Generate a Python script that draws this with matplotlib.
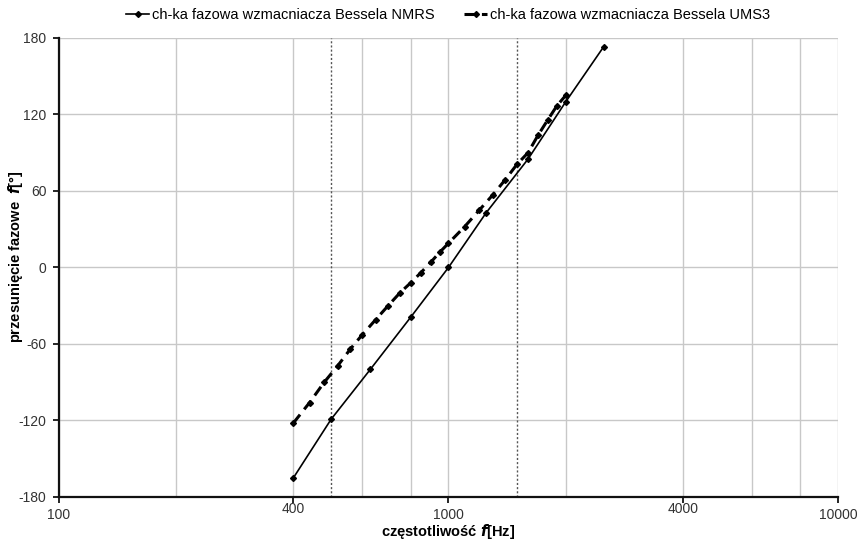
import numpy as np
import matplotlib
matplotlib.use("Agg")
import matplotlib.pyplot as plt
import matplotlib.transforms as mtransforms

plt.rcParams['font.family'] = ['Liberation Sans', 'DejaVu Sans']
plt.rcParams['axes.unicode_minus'] = False

# ch-ka fazowa NMRS (third-octave points)
f_nmrs = [400, 500, 630, 800, 1000, 1250, 1600, 2000, 2500]
phi_nmrs = [-165, -119, -80, -39, 0, 43, 85, 130, 173]

# ch-ka fazowa UMS3 (denser measurement)
f_ums3 = [400, 440, 480, 520, 560, 600, 650, 700, 750, 800, 850, 900, 950,
          1000, 1100, 1200, 1300, 1400, 1500, 1600, 1700, 1800, 1900, 2000]
phi_ums3 = [-122, -106, -90, -77, -64, -53, -41, -30, -20, -12, -4, 4, 12,
            19, 32, 45, 57, 69, 81, 90, 104, 116, 127, 135]

marked_f = [500, 1500]
x_ticks = [100, 400, 1000, 4000, 10000]
x_grid = [200, 600, 800, 2000, 6000, 8000]
y_ticks = [-180, -120, -60, 0, 60, 120, 180]

label_nmrs = "ch-ka fazowa wzmacniacza Bessela NMRS"
label_ums3 = "ch-ka fazowa wzmacniacza Bessela UMS3"

fig = plt.figure(figsize=(8.57, 5.39), dpi=100)
ax = fig.add_axes([0.0686, 0.078, 0.9094, 0.8515])

ax.set_xscale('log')
ax.set_xlim(100, 10000)
ax.set_ylim(-180, 180)

grid_col = '#c8c8c8'
ax.set_xticks(x_ticks)
ax.set_xticklabels([str(t) for t in x_ticks])
ax.set_xticks(x_grid, minor=True)
ax.set_yticks(y_ticks)
ax.tick_params(axis='x', which='minor', length=0)
ax.tick_params(axis='both', which='major', direction='out', length=4,
               width=1.2, labelsize=10, colors='black', labelcolor='#333333')
ax.tick_params(axis='x', which='major', pad=4)
ax.tick_params(axis='y', which='major', pad=5)
ax.grid(True, which='both', axis='x', color=grid_col, lw=1.0)
ax.grid(True, which='major', axis='y', color=grid_col, lw=1.0)
ax.set_axisbelow(True)

for s in ['top', 'right']:
    ax.spines[s].set_visible(False)
for s in ['left', 'bottom']:
    ax.spines[s].set_linewidth(1.6)
    ax.spines[s].set_color('#111111')

for fm in marked_f:
    ax.axvline(fm, color='#555555', lw=1.0, ls=(0, (1.5, 1.5)), zorder=1)

ax.plot(f_nmrs, phi_nmrs, color='black', lw=1.2, marker='D', ms=3,
        label=label_nmrs, zorder=3)
ax.plot(f_ums3, phi_ums3, color='black', lw=2.2, ls=(0, (3.5, 2.2)),
        marker='D', ms=3, label=label_ums3, zorder=3)

ax.set_xlabel("częstotliwość $\\mathbfit{f}$[Hz]", fontsize=10.5,
              fontweight='bold', va='top')
ax.xaxis.set_label_coords(0.5, -0.054)
ax.set_ylabel("przesunięcie fazowe  $\\mathbfit{f}$[°]", fontsize=10.5,
              fontweight='bold')
ax.yaxis.set_label_coords(-0.043, 0.523)

fig.legend(loc='upper center', bbox_to_anchor=(0.523, 1.01), ncol=2,
           frameon=False, fontsize=10.5, handlelength=1.6, handletextpad=0.2,
           columnspacing=2.0)

# stagger labels 400 and 4000 slightly upward (done last so it sticks)
shift = mtransforms.ScaledTranslation(0, 6 / 100, fig.dpi_scale_trans)
for tick in ax.xaxis.get_major_ticks():
    lab = tick.label1
    if lab.get_text() in ('400', '4000'):
        lab.set_transform(lab.get_transform() + shift)

fig.savefig("out.png", dpi=100)
